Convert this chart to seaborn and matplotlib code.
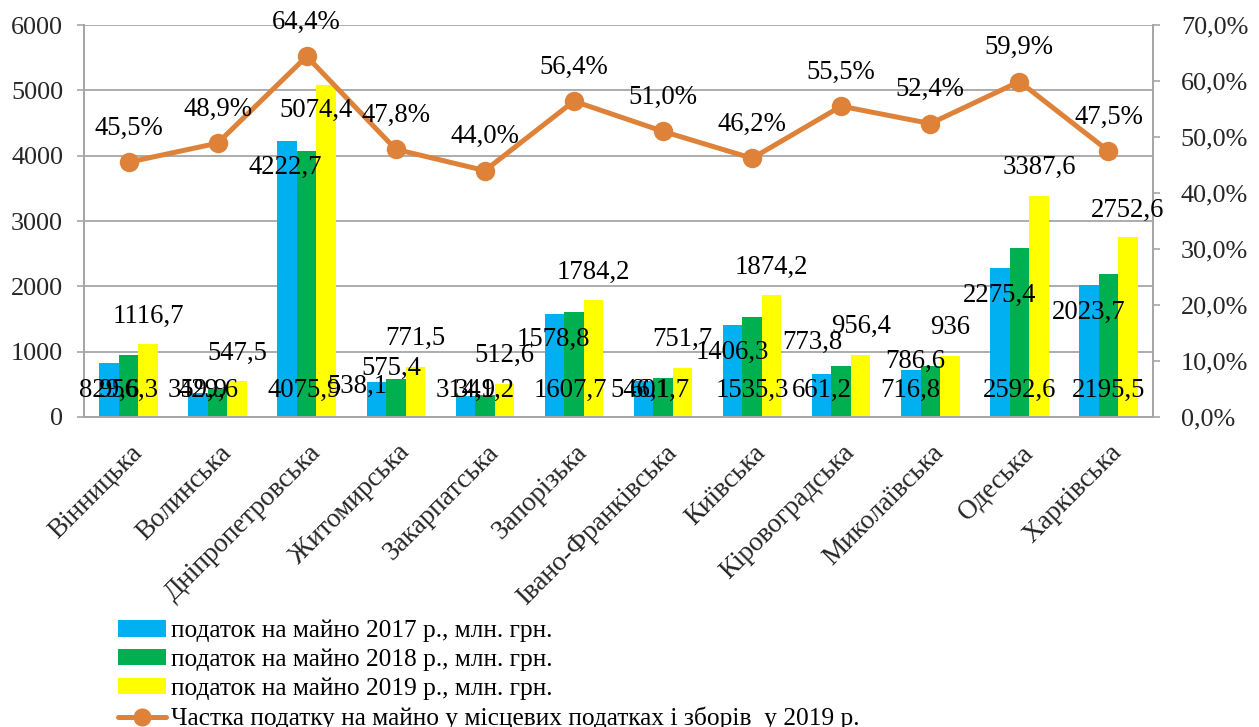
import numpy as np
import pandas as pd
import matplotlib
matplotlib.use("Agg")
import matplotlib.pyplot as plt
import matplotlib.transforms as mtransforms
from matplotlib.lines import Line2D
from matplotlib.patches import Patch
import seaborn as sns

# --- data -------------------------------------------------------------
regions = ["Вінницька", "Волинська", "Дніпропетровська", "Житомирська",
           "Закарпатська", "Запорізька", "Івано-Франківська", "Київська",
           "Кіровоградська", "Миколаївська", "Одеська", "Харківська"]
tax_2017 = [829.6, 359.9, 4222.7, 538.1, 314.9, 1578.8, 546.1, 1406.3,
            661.2, 716.8, 2275.4, 2023.7]
tax_2018 = [956.3, 429.6, 4075.9, 575.4, 341.2, 1607.7, 601.7, 1535.3,
            773.8, 786.6, 2592.6, 2195.5]
tax_2019 = [1116.7, 547.5, 5074.4, 771.5, 512.6, 1784.2, 751.7, 1874.2,
            956.4, 936.0, 3387.6, 2752.6]
share_2019 = [45.5, 48.9, 64.4, 47.8, 44.0, 56.4, 51.0, 46.2, 55.5, 52.4,
              59.9, 47.5]
series_names = ["податок на майно 2017 р., млн. грн.",
                "податок на майно 2018 р., млн. грн.",
                "податок на майно 2019 р., млн. грн."]
line_name = "Частка податку на майно у місцевих податках і зборів  у 2019 р."
y_ticks = [0, 1000, 2000, 3000, 4000, 5000, 6000]
pct_ticks = [0, 10, 20, 30, 40, 50, 60, 70]

# --- style --------------------------------------------------------------
bar_colors = ["#00B0F0", "#00B050", "#FFFF00"]
line_color = "#DE823A"
grid_color = "#A6A6A6"

# data-label placement: (anchor, dx px, dy px); anchor "top" = bar top, "base" = zero line
label_layout = [
    [("base", 0, 27), ("base", 0, 27), ("top", -2, -26), ("top", -19, -5),
     ("base", 0, 27), ("top", -1, -26), ("base", -3, 27), ("top", 0, -27),
     ("base", 0, 27), ("base", 0, 27), ("top", 0, -27), ("top", 0, -28)],
    [("base", 0, 27), ("base", -9, 27), ("base", -3, 27), ("top", -4, 11),
     ("base", 0, 27), ("base", -4, 27), ("base", -3, 27), ("base", 0, 27),
     ("top", -29, 24), ("top", -15, 4), ("base", 0, 27), ("base", 0, 27)],
    [("top", 0, 28), ("top", 0, 28), ("top", -10, -25), ("top", 0, 28),
     ("top", 0, 28), ("top", 0, 28), ("top", 0, 28), ("top", 0, 27),
     ("top", 0, 28), ("top", 0, 28), ("top", 0, 28), ("top", 0, 27)],
]

sns.set_theme(style="white")
plt.rcParams["font.family"] = ["Liberation Serif", "DejaVu Serif"]
plt.rcParams["text.color"] = "black"

W, H = 1259, 727
fig = plt.figure(figsize=(W / 100, H / 100), dpi=100)
fig.patch.set_facecolor("white")
ax = fig.add_axes([84 / W, 1 - 417 / H, (1153 - 84) / W, (417 - 25) / H])

df = pd.DataFrame({
    "region": regions * 3,
    "value": tax_2017 + tax_2018 + tax_2019,
    "series": [series_names[0]] * 12 + [series_names[1]] * 12 + [series_names[2]] * 12,
})
sns.barplot(data=df, x="region", y="value", hue="series", order=regions,
            hue_order=series_names, palette=bar_colors, saturation=1,
            width=0.657, gap=0, linewidth=0, legend=False, errorbar=None, ax=ax)

ax.set_xlim(-0.5, 11.5)
ax.set_ylim(0, 6000)
ax.set_xlabel("")
ax.set_ylabel("")
ax.set_yticks(y_ticks)
ax.set_yticklabels([str(v) for v in y_ticks], fontsize=18.8)
ax.yaxis.grid(True, color=grid_color, linewidth=1.3)
ax.set_axisbelow(True)

ax.set_xticks(range(len(regions)))
ax.set_xticklabels(regions, rotation=45, ha="right", va="center",
                   rotation_mode="anchor", fontsize=19.5)
ax.set_xticks(np.arange(-0.5, len(regions), 1), minor=True)
ax.tick_params(axis="x", which="major", length=0, pad=23)
ax.tick_params(axis="x", which="minor", length=5, width=1.2, color=grid_color,
               direction="out")
ax.tick_params(axis="y", length=5, width=1.2, color=grid_color, pad=10,
               direction="out", left=True)
shift = mtransforms.ScaledTranslation(10 / 100, 0, fig.dpi_scale_trans)
for lab in ax.get_xticklabels():
    lab.set_transform(lab.get_transform() + shift)

# share line on the secondary axis
ax2 = ax.twinx()
sns.lineplot(x=np.arange(len(regions)), y=share_2019, ax=ax2, color=line_color,
             linewidth=3.6, marker="o", markersize=14, markeredgecolor=line_color,
             markeredgewidth=0)
ax2.set_xlim(-0.5, 11.5)
ax2.set_ylim(0, 70)
ax2.set_yticks(pct_ticks)
ax2.set_yticklabels([f"{v:.1f}%".replace(".", ",") for v in pct_ticks], fontsize=18.8)
ax2.tick_params(axis="y", which="major", length=5, width=1.2, color=grid_color,
                pad=15, direction="out", right=True)
ax2.set_ylabel("")

for a in (ax, ax2):
    a.spines["top"].set_visible(False)
    for s in ("left", "right", "bottom"):
        a.spines[s].set_color(grid_color)
        a.spines[s].set_linewidth(1.3)

# value labels for bars
for k, values in enumerate([tax_2017, tax_2018, tax_2019]):
    for i, bar in enumerate(ax.containers[k]):
        xc = bar.get_x() + bar.get_width() / 2
        h = bar.get_height()
        anchor, dx, dy = label_layout[k][i]
        yv = h if anchor == "top" else 0
        v = values[i]
        txt = str(int(v)) if float(v).is_integer() else f"{v:.1f}".replace(".", ",")
        ax2.annotate(txt, xy=(xc, yv), xycoords=ax.transData, xytext=(dx, dy),
                     textcoords="offset pixels", ha="center", va="center",
                     fontsize=19.3, color="black", zorder=5)

# value labels for the share line
for i, v in enumerate(share_2019):
    ax2.annotate(f"{v:.1f}%".replace(".", ","), xy=(i, v), xycoords="data",
                 xytext=(0, 34), textcoords="offset pixels", ha="center",
                 va="center", fontsize=19.3, color="black", zorder=5)

handles = [Patch(facecolor=c, edgecolor="none") for c in bar_colors]
handles.append(Line2D([], [], color=line_color, linewidth=3.6, marker="o",
                      markersize=13, markeredgewidth=0))
fig.legend(handles, series_names + [line_name], loc="upper left",
           bbox_to_anchor=(118 / W, 1 - 620 / H), frameon=False, fontsize=18.3,
           handlelength=1.9, handleheight=0.6, handletextpad=0.2,
           labelspacing=0.25, borderpad=0, borderaxespad=0)

fig.savefig("out.png", dpi=100, facecolor="white")
